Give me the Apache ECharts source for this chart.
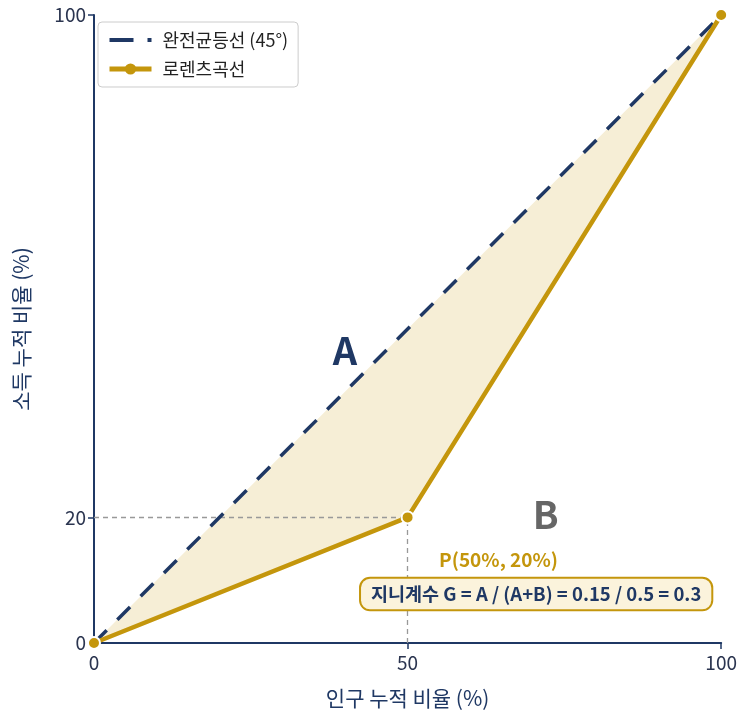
<!DOCTYPE html>
<html><head><meta charset="utf-8">
<script src="https://cdn.jsdelivr.net/npm/echarts@6/dist/echarts.min.js"></script>
<style>html,body{margin:0;padding:0;background:#fff}#c{width:740px;height:715px}</style>
</head><body><div id="c"></div>
<script>
const FONT = '"Noto Sans CJK KR","Noto Sans",sans-serif';
const NAVY = '#1f3864';
const GOLD = '#c4960c';
const equalityName = '완전균등선 (45°)';
const lorenzName = '로렌츠곡선';
const equalityPts = [[0, 0], [100, 100]];
const lorenzPts = [[0, 0], [50, 20], [100, 100]];
const xTicks = [0, 50, 100];
const yTicks = [0, 20, 100];
const pointP = [50, 20];
const labelA = [40, 46.5];
const labelB = [72, 20.5];
const labelP = [64.5, 13.2];
const giniBox = [70.5, 7.8];
const giniText = '지니계수 G = A / (A+B) = 0.15 / 0.5 = 0.3';

const chart = echarts.init(document.getElementById('c'), null, {renderer: 'canvas'});
const fillPoly = lorenzPts.concat(equalityPts.slice().reverse());

chart.setOption({
  animation: false,
  textStyle: {fontFamily: FONT},
  grid: {left: 94, right: 18, top: 15, bottom: 72, containLabel: false},
  legend: {
    left: 98, top: 22, orient: 'vertical', itemGap: 11,
    itemWidth: 42, itemHeight: 14,
    padding: [9, 10, 9, 9],
    borderColor: '#cccccc', borderWidth: 1, borderRadius: 4, backgroundColor: '#fff',
    textStyle: {fontSize: 18, color: '#222', fontFamily: FONT, padding: [0, 0, 0, 6]},
    data: [
      {name: equalityName, lineStyle: {width: 4, color: NAVY, type: [24, 14]},
        itemStyle: {color: 'rgba(0,0,0,0)', borderWidth: 0, opacity: 0}},
      {name: lorenzName, lineStyle: {width: 5, color: GOLD}, itemStyle: {color: GOLD, borderWidth: 0}}
    ]
  },
  xAxis: {
    type: 'value', min: 0, max: 100, interval: 50,
    name: '인구 누적 비율 (%)', nameLocation: 'middle', nameGap: 45,
    nameTextStyle: {fontSize: 21, color: NAVY, fontFamily: FONT},
    axisLine: {show: true, lineStyle: {color: NAVY, width: 2}},
    axisTick: {show: true, length: 6, lineStyle: {color: NAVY, width: 1.5}},
    axisLabel: {fontSize: 19, color: '#2b3550', margin: 10, fontFamily: FONT},
    splitLine: {show: false}
  },
  yAxis: {
    type: 'value', min: 0, max: 100, interval: 20,
    name: '소득 누적 비율 (%)', nameLocation: 'middle', nameGap: 62, nameRotate: 90,
    nameTextStyle: {fontSize: 21, color: NAVY, fontFamily: FONT},
    axisLine: {show: true, lineStyle: {color: NAVY, width: 2}},
    axisTick: {show: true, length: 6, customValues: yTicks, lineStyle: {color: NAVY, width: 1.5}},
    axisLabel: {fontSize: 19, color: '#2b3550', margin: 8, customValues: yTicks, fontFamily: FONT},
    splitLine: {show: false}
  },
  series: [
    {
      type: 'custom', name: 'fill', silent: true, z: 1,
      data: [0],
      renderItem: function (params, api) {
        const pts = fillPoly.map(p => api.coord(p));
        return {type: 'polygon', shape: {points: pts}, style: {fill: '#f6eed6', stroke: null}};
      }
    },
    {
      type: 'line', name: equalityName, data: equalityPts, z: 3,
      showSymbol: false, symbol: 'none',
      lineStyle: {color: NAVY, width: 3.5, type: [18, 15]},
      itemStyle: {color: NAVY}
    },
    {
      type: 'line', name: lorenzName, data: lorenzPts, z: 4,
      symbol: 'circle', symbolSize: 12, showSymbol: true,
      lineStyle: {color: GOLD, width: 4.5},
      itemStyle: {color: GOLD, borderColor: '#ffffff', borderWidth: 2},
      markLine: {
        silent: true, symbol: 'none', z: 2,
        lineStyle: {color: '#999999', width: 1.3, type: [5, 4]},
        label: {show: false},
        data: [
          [{coord: [0, pointP[1]]}, {coord: pointP}],
          [{coord: [pointP[0], 0]}, {coord: pointP}]
        ]
      }
    },
    {
      type: 'scatter', name: 'annotations', symbolSize: 0, z: 6, silent: true,
      itemStyle: {opacity: 1},
      data: [
        {value: labelA, label: {show: true, formatter: 'A', position: 'inside', fontSize: 38, fontWeight: 'bold', color: NAVY, fontFamily: FONT}},
        {value: labelB, label: {show: true, formatter: 'B', position: 'inside', fontSize: 38, fontWeight: 'bold', color: '#666666', fontFamily: FONT}},
        {value: labelP, label: {show: true, formatter: 'P(50%, 20%)', position: 'inside', fontSize: 19, fontWeight: 'bold', color: GOLD, fontFamily: FONT}},
        {value: giniBox, label: {show: true, formatter: giniText, position: 'inside', fontSize: 18.5, fontWeight: 'bold', color: NAVY, fontFamily: FONT,
          backgroundColor: '#fbf3dc', borderColor: GOLD, borderWidth: 2, borderRadius: 9, padding: [6, 10, 6, 10]}}
      ]
    }
  ]
});
</script></body></html>
